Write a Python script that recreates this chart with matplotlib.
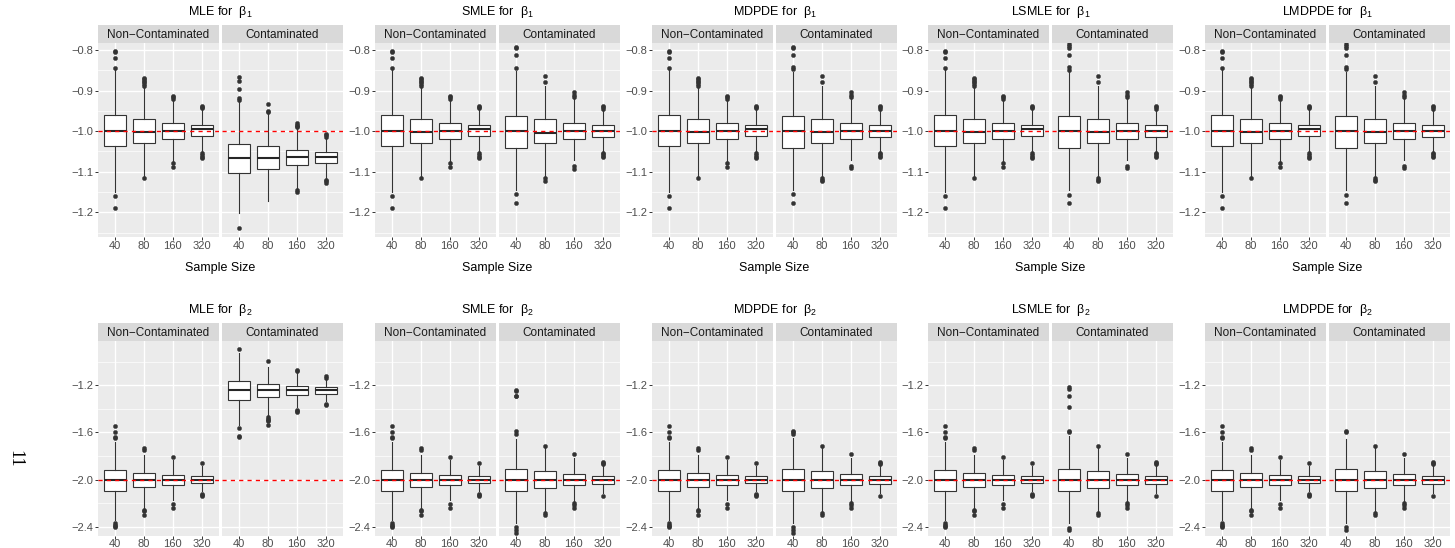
import matplotlib
matplotlib.use("Agg")
import matplotlib.pyplot as plt
from matplotlib.ticker import FixedLocator, FuncFormatter

plt.rcParams['font.family'] = ['Liberation Sans', 'DejaVu Sans']
plt.rcParams['mathtext.fontset'] = 'custom'
plt.rcParams['mathtext.rm'] = 'Liberation Sans'
plt.rcParams['mathtext.it'] = 'Liberation Sans:italic'

# ---------------- data ----------------
SIZES = ["40", "80", "160", "320"]
ESTIMATORS = ["MLE", "SMLE", "MDPDE", "LSMLE", "LMDPDE"]
FACETS = ["Non\u2212Contaminated", "Contaminated"]
TRUE_B1 = -1.0
TRUE_B2 = -2.0
Y_TICKS_B1 = [-1.2, -1.1, -1.0, -0.9, -0.8]
Y_TICKS_B2 = [-2.4, -2.0, -1.6, -1.2]

# rows: sample size; columns: lower whisker, Q1, median, Q3, upper whisker
B1_NONCONT = [
    [-1.150, -1.037, -1.000, -0.961, -0.850],
    [-1.110, -1.028, -1.002, -0.971, -0.890],
    [-1.075, -1.019, -1.000, -0.980, -0.923],
    [-1.053, -1.013, -0.994, -0.986, -0.947],
]
B1_NONCONT_OUT = [
    [-0.803, -0.806, -0.820, -0.844, -1.159, -1.190],
    [-0.868, -0.872, -0.876, -0.880, -0.884, -0.888, -1.115],
    [-0.914, -0.917, -0.920, -1.079, -1.089],
    [-0.938, -0.941, -0.944, -1.055, -1.059, -1.063, -1.067],
]
B2_NONCONT = [
    [-2.338, -2.092, -1.999, -1.914, -1.683],
    [-2.248, -2.061, -1.999, -1.943, -1.787],
    [-2.168, -2.047, -2.005, -1.957, -1.830],
    [-2.098, -2.027, -1.999, -1.971, -1.886],
]
B2_NONCONT_OUT = [
    [-1.542, -1.595, -1.635, -1.643, -2.366, -2.380, -2.392, -2.400],
    [-1.731, -1.745, -2.253, -2.266, -2.296],
    [-1.810, -2.205, -2.239],
    [-1.861, -2.118, -2.126, -2.134],
]

MLE_B1_CONT = [
    [-1.202, -1.104, -1.066, -1.032, -0.926],
    [-1.171, -1.093, -1.066, -1.037, -0.956],
    [-1.141, -1.084, -1.064, -1.047, -0.994],
    [-1.116, -1.078, -1.064, -1.052, -1.016],
]
MLE_B1_CONT_OUT = [
    [-0.867, -0.876, -0.896, -0.919, -0.923, -1.239],
    [-0.933, -0.950, -0.953],
    [-0.981, -0.984, -0.987, -0.990, -1.145, -1.151],
    [-1.007, -1.010, -1.014, -1.120, -1.124, -1.127],
]
SMLE_B1_CONT = [
    [-1.145, -1.041, -1.000, -0.963, -0.852],
    [-1.112, -1.030, -1.004, -0.971, -0.889],
    [-1.071, -1.020, -1.000, -0.981, -0.921],
    [-1.052, -1.014, -1.000, -0.986, -0.949],
]
SMLE_B1_CONT_OUT = [
    [-0.792, -0.794, -0.813, -0.845, -1.156, -1.178],
    [-0.864, -0.878, -1.116, -1.122],
    [-0.903, -0.911, -0.917, -1.087, -1.093],
    [-0.938, -0.941, -0.945, -1.053, -1.057, -1.060, -1.063],
]
MDPDE_B1_CONT = [
    [-1.145, -1.041, -1.000, -0.963, -0.853],
    [-1.112, -1.030, -1.001, -0.971, -0.889],
    [-1.071, -1.020, -1.000, -0.981, -0.921],
    [-1.052, -1.014, -1.000, -0.986, -0.949],
]
MDPDE_B1_CONT_OUT = [
    [-0.792, -0.794, -0.813, -0.843, -0.848, -1.156, -1.176],
    [-0.864, -0.878, -1.116, -1.120, -1.124],
    [-0.903, -0.911, -0.917, -1.087, -1.091],
    [-0.938, -0.941, -0.945, -1.053, -1.057, -1.060, -1.063],
]
LSMLE_B1_CONT = [
    [-1.145, -1.041, -1.000, -0.963, -0.855],
    [-1.112, -1.030, -1.001, -0.971, -0.889],
    [-1.071, -1.020, -1.000, -0.981, -0.921],
    [-1.052, -1.014, -1.000, -0.986, -0.949],
]
LSMLE_B1_CONT_OUT = [
    [-0.784, -0.790, -0.794, -0.813, -0.843, -0.849, -1.157, -1.178],
    [-0.864, -0.878, -1.116, -1.120, -1.124],
    [-0.903, -0.911, -0.917, -1.087, -1.091],
    [-0.938, -0.941, -0.945, -1.053, -1.057, -1.060, -1.063],
]
LMDPDE_B1_CONT = [
    [-1.145, -1.041, -1.000, -0.963, -0.855],
    [-1.112, -1.030, -1.001, -0.971, -0.889],
    [-1.071, -1.020, -1.000, -0.981, -0.921],
    [-1.052, -1.014, -1.000, -0.986, -0.949],
]
LMDPDE_B1_CONT_OUT = [
    [-0.784, -0.790, -0.794, -0.813, -0.843, -0.848, -1.157, -1.176],
    [-0.864, -0.878, -1.116, -1.120, -1.124],
    [-0.903, -0.911, -0.917, -1.087, -1.091],
    [-0.938, -0.941, -0.945, -1.053, -1.057, -1.060, -1.063],
]

MLE_B2_CONT = [
    [-1.533, -1.321, -1.242, -1.166, -0.926],
    [-1.463, -1.299, -1.242, -1.186, -1.045],
    [-1.384, -1.282, -1.242, -1.208, -1.095],
    [-1.336, -1.271, -1.242, -1.217, -1.146],
]
MLE_B2_CONT_OUT = [
    [-0.892, -1.561, -1.626, -1.638],
    [-0.997, -1.471, -1.482, -1.490, -1.505, -1.533],
    [-1.067, -1.081, -1.406, -1.418, -1.429],
    [-1.124, -1.135, -1.358, -1.369],
]
SMLE_B2_CONT = [
    [-2.366, -2.092, -1.999, -1.906, -1.655],
    [-2.276, -2.070, -1.999, -1.928, -1.725],
    [-2.177, -2.047, -2.005, -1.951, -1.816],
    [-2.112, -2.033, -1.999, -1.965, -1.878],
]
SMLE_B2_CONT_OUT = [
    [-1.237, -1.251, -1.288, -1.293, -1.590, -1.609, -2.403, -2.422, -2.455],
    [-1.717, -2.281, -2.296],
    [-1.782, -2.197, -2.210, -2.239],
    [-1.849, -1.857, -1.864, -2.140],
]
MDPDE_B2_CONT = [
    [-2.366, -2.092, -1.999, -1.906, -1.646],
    [-2.276, -2.070, -1.999, -1.928, -1.725],
    [-2.177, -2.047, -2.005, -1.951, -1.816],
    [-2.112, -2.033, -1.999, -1.965, -1.878],
]
MDPDE_B2_CONT_OUT = [
    [-1.587, -1.600, -1.609, -2.400, -2.422, -2.455],
    [-1.717, -2.281, -2.296],
    [-1.782, -2.197, -2.210, -2.239],
    [-1.849, -1.857, -1.864, -2.140],
]
LSMLE_B2_CONT = [
    [-2.366, -2.092, -1.999, -1.906, -1.632],
    [-2.276, -2.070, -1.999, -1.928, -1.725],
    [-2.177, -2.047, -2.005, -1.951, -1.816],
    [-2.112, -2.033, -1.999, -1.965, -1.878],
]
LSMLE_B2_CONT_OUT = [
    [-1.214, -1.231, -1.293, -1.386, -1.590, -1.598, -2.408, -2.422],
    [-1.717, -2.281, -2.296],
    [-1.782, -2.197, -2.210, -2.239],
    [-1.849, -1.857, -1.864, -2.140],
]
LMDPDE_B2_CONT = [
    [-2.366, -2.092, -1.999, -1.906, -1.655],
    [-2.276, -2.070, -1.999, -1.928, -1.725],
    [-2.177, -2.047, -2.005, -1.951, -1.816],
    [-2.112, -2.033, -1.999, -1.965, -1.878],
]
LMDPDE_B2_CONT_OUT = [
    [-1.590, -1.598, -2.400, -2.428],
    [-1.717, -2.281, -2.296],
    [-1.782, -2.197, -2.210, -2.239],
    [-1.849, -1.857, -1.864, -2.140],
]

CONT_B1 = {
    "MLE": (MLE_B1_CONT, MLE_B1_CONT_OUT),
    "SMLE": (SMLE_B1_CONT, SMLE_B1_CONT_OUT),
    "MDPDE": (MDPDE_B1_CONT, MDPDE_B1_CONT_OUT),
    "LSMLE": (LSMLE_B1_CONT, LSMLE_B1_CONT_OUT),
    "LMDPDE": (LMDPDE_B1_CONT, LMDPDE_B1_CONT_OUT),
}
CONT_B2 = {
    "MLE": (MLE_B2_CONT, MLE_B2_CONT_OUT),
    "SMLE": (SMLE_B2_CONT, SMLE_B2_CONT_OUT),
    "MDPDE": (MDPDE_B2_CONT, MDPDE_B2_CONT_OUT),
    "LSMLE": (LSMLE_B2_CONT, LSMLE_B2_CONT_OUT),
    "LMDPDE": (LMDPDE_B2_CONT, LMDPDE_B2_CONT_OUT),
}

# ---------------- layout ----------------
W, H = 1455, 548
fig = plt.figure(figsize=(W / 100, H / 100), dpi=100)
fig.patch.set_facecolor('white')

GROUP_X = [98, 375, 652, 928, 1205]
PANEL_W = 121
PANEL_GAP = 3

ROWS = [
    dict(sub="1", title_y=12, strip_top=25, panel_top=43, panel_bot=237.3,
         ylim=(-1.2616, -0.7827), ticks=Y_TICKS_B1, true=TRUE_B1,
         nc=(B1_NONCONT, B1_NONCONT_OUT), cont=CONT_B1, xlabel_y=268),
    dict(sub="2", title_y=310, strip_top=323.3, panel_top=340.7, panel_bot=535.5,
         ylim=(-2.4725, -0.8225), ticks=Y_TICKS_B2, true=TRUE_B2,
         nc=(B2_NONCONT, B2_NONCONT_OUT), cont=CONT_B2, xlabel_y=None),
]


def ax_px(x0, y0, x1, y1):
    return fig.add_axes([x0 / W, 1 - y1 / H, (x1 - x0) / W, (y1 - y0) / H])


def fmt(v, pos):
    return f"{v:.1f}".replace("-", "\u2212")


for row in ROWS:
    ticks = row["ticks"]
    step = ticks[1] - ticks[0]
    minor = [t + step / 2 for t in ticks] + [ticks[0] - step / 2]
    for gi, est in enumerate(ESTIMATORS):
        gx = GROUP_X[gi]
        for fi, facet in enumerate(FACETS):
            x0 = gx + fi * (PANEL_W + PANEL_GAP)
            x1 = x0 + PANEL_W
            if fi == 0:
                box5, outs = row["nc"]
            else:
                box5, outs = row["cont"][est]
            stats = []
            for k, lab in enumerate(SIZES):
                lo, q1, md, q3, hi = box5[k]
                stats.append(dict(whislo=lo, q1=q1, med=md, q3=q3, whishi=hi,
                                  fliers=outs[k], label=lab))
            ax = ax_px(x0, row["panel_top"], x1, row["panel_bot"])
            ax.set_facecolor('#EBEBEB')
            for s in ax.spines.values():
                s.set_visible(False)
            ax.bxp(stats, positions=[1, 2, 3, 4], widths=0.75, patch_artist=True,
                   showcaps=False,
                   boxprops=dict(facecolor='white', edgecolor='#333333', linewidth=0.8),
                   medianprops=dict(color='#262626', linewidth=1.5),
                   whiskerprops=dict(color='#333333', linewidth=0.8),
                   flierprops=dict(marker='o', markerfacecolor='#333333',
                                   markeredgecolor='#333333', markersize=3.0,
                                   markeredgewidth=0.3))
            ax.axhline(row["true"], color='red', linestyle=(0, (3, 3)), linewidth=1.0,
                       zorder=6)
            ax.set_xlim(0.4, 4.6)
            ax.set_ylim(*row["ylim"])
            ax.yaxis.set_major_locator(FixedLocator(ticks))
            ax.yaxis.set_minor_locator(FixedLocator(minor))
            ax.yaxis.set_major_formatter(FuncFormatter(fmt))
            ax.set_xticks([1, 2, 3, 4])
            ax.set_xticklabels(SIZES)
            ax.set_axisbelow(True)
            ax.grid(which='major', color='white', linewidth=1.0)
            ax.grid(which='minor', axis='y', color='white', linewidth=0.5)
            ax.tick_params(which='major', length=2.2, width=0.7, color='#333333',
                           labelcolor='#4D4D4D', labelsize=8, pad=1.2)
            ax.tick_params(axis='x', pad=0.4)
            ax.tick_params(which='minor', length=0)
            if fi == 1:
                ax.tick_params(axis='y', left=False, labelleft=False)
            # strip
            sax = ax_px(x0, row["strip_top"], x1, row["panel_top"])
            sax.set_facecolor('#D9D9D9')
            for s in sax.spines.values():
                s.set_visible(False)
            sax.set_xticks([])
            sax.set_yticks([])
            sax.text(0.5, 0.45, facet, ha='center', va='center', fontsize=8.5,
                     color='#1A1A1A', transform=sax.transAxes)
        cx = (gx + gx + 2 * PANEL_W + PANEL_GAP) / 2
        fig.text(cx / W, 1 - row["title_y"] / H,
                 est + r" for  $\mathrm{\beta}_" + row["sub"] + "$",
                 ha='center', va='center', fontsize=9, color='black')
        if row["xlabel_y"] is not None:
            fig.text(cx / W, 1 - row["xlabel_y"] / H, "Sample Size",
                     ha='center', va='center', fontsize=9, color='black')

fig.text(15 / W, 1 - 459 / H, "11", rotation=-90, ha='center', va='center',
         fontsize=13, family='Liberation Serif', color='black')

fig.savefig("out.png", dpi=100, facecolor='white')
